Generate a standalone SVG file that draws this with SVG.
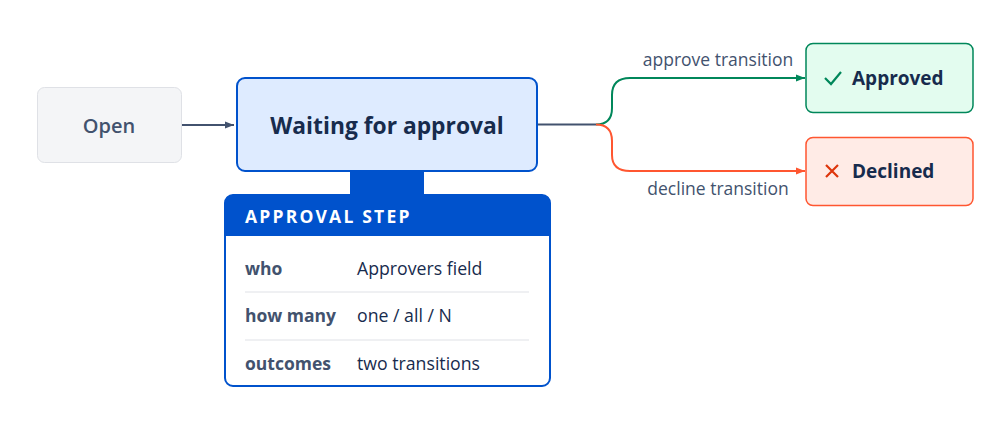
<svg xmlns="http://www.w3.org/2000/svg" width="999" height="437" viewBox="0 0 999 437">
<defs>
<style>
text{font-family:"Open Sans","Noto Sans","Liberation Sans",sans-serif}
.lbl{font-size:17.5px;fill:#42526e}
.key{font-size:17.5px;font-weight:700;fill:#42526e}
.val{font-size:17.7px;fill:#172b4d}
.sep{stroke:#dfe1e6;stroke-width:1}
</style>
<marker id="ah" viewBox="0 0 10 10" refX="10" refY="5" markerWidth="9" markerHeight="9" markerUnits="userSpaceOnUse" orient="auto"><path d="M0,1 L10,5 L0,9 z" fill="#42526e"/></marker>
<marker id="ag" viewBox="0 0 10 10" refX="10" refY="5" markerWidth="9" markerHeight="9" markerUnits="userSpaceOnUse" orient="auto"><path d="M0,1 L10,5 L0,9 z" fill="#00875a"/></marker>
<marker id="ar" viewBox="0 0 10 10" refX="10" refY="5" markerWidth="9" markerHeight="9" markerUnits="userSpaceOnUse" orient="auto"><path d="M0,1 L10,5 L0,9 z" fill="#ff5630"/></marker>
</defs>
<rect width="999" height="437" fill="#ffffff"/>
<g id="connectors" fill="none" stroke-width="2">
<path d="M181,125 H234" stroke="#42526e" marker-end="url(#ah)"/>
<path d="M537,124.5 H596" stroke="#42526e"/>
<path d="M596,124.5 C607,124.5 612,118 612,108 V95 C612,84 618,78 630,78 H805" stroke="#00875a" marker-end="url(#ag)"/>
<path d="M596,124.5 C607,124.5 612,131 612,141 V155 C612,165 618,171 630,171 H805" stroke="#ff5630" marker-end="url(#ar)"/>
<text class="lbl" x="718" y="66" text-anchor="middle" stroke="none">approve transition</text>
<text class="lbl" x="718" y="195" text-anchor="middle" stroke="none">decline transition</text>
</g>
<g id="open">
<rect x="37.5" y="87.5" width="144" height="75" rx="7" fill="#f4f5f7" stroke="#dfe1e6"/>
<text x="109" y="133" text-anchor="middle" font-size="20" font-weight="600" fill="#42526e">Open</text>
</g>
<g id="waiting">
<rect x="237" y="78" width="300" height="93" rx="8" fill="#deebff" stroke="#0052cc" stroke-width="2"/>
<text x="387" y="134" text-anchor="middle" font-size="22.8" font-weight="700" fill="#172b4d">Waiting for approval</text>
</g>
<g id="approval-step">
<rect x="350" y="170" width="74" height="27" fill="#0052cc"/>
<rect x="225" y="195" width="325" height="191" rx="8" fill="#ffffff" stroke="#0052cc" stroke-width="2"/>
<path d="M225,236 V203 Q225,195 233,195 H542 Q550,195 550,203 V236 Z" fill="#0052cc"/>
<text x="245" y="223" font-size="17.5" font-weight="700" fill="#ffffff" letter-spacing="2.2">APPROVAL STEP</text>
<text class="key" x="245" y="275">who</text>
<text class="val" x="357" y="275">Approvers field</text>
<line class="sep" x1="245" y1="292" x2="529" y2="292"/>
<text class="key" x="245" y="322">how many</text>
<text class="val" x="357" y="322">one / all / N</text>
<line class="sep" x1="245" y1="340" x2="529" y2="340"/>
<text class="key" x="245" y="370">outcomes</text>
<text class="val" x="357" y="370">two transitions</text>
</g>
<g id="approved">
<rect x="806" y="43.5" width="167" height="69" rx="7" fill="#e3fcef" stroke="#00875a" stroke-width="1.5"/>
<path d="M825,78 L831,84 L841,72" fill="none" stroke="#00875a" stroke-width="2.2"/>
<text x="852" y="85" font-size="19" font-weight="700" fill="#172b4d">Approved</text>
</g>
<g id="declined">
<rect x="806" y="137.5" width="167" height="68" rx="7" fill="#ffebe6" stroke="#ff5630" stroke-width="1.5"/>
<path d="M826,165 L838,177 M838,165 L826,177" fill="none" stroke="#de350b" stroke-width="2.2"/>
<text x="852" y="178" font-size="19" font-weight="700" fill="#172b4d">Declined</text>
</g>
</svg>
